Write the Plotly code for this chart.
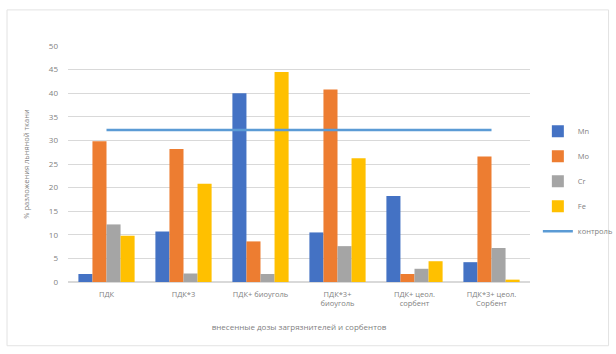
import plotly.graph_objects as go

categories = ["ПДК", "ПДК*3", "ПДК+ биоуголь", "ПДК*3+<br>биоуголь", "ПДК+ цеол.<br>сорбент", "ПДК*3+ цеол.<br>Сорбент"]
mn = [1.7, 10.7, 40.0, 10.5, 18.2, 4.2]
mo = [29.8, 28.2, 8.6, 40.8, 1.7, 26.6]
cr = [12.2, 1.8, 1.7, 7.6, 2.8, 7.2]
fe = [9.8, 20.8, 44.5, 26.2, 4.4, 0.5]
control = [32.2] * 6

series = [("Mn", mn, "#4472C4"), ("Mo", mo, "#ED7D31"), ("Cr", cr, "#A5A5A5"), ("Fe", fe, "#FFC000")]

fig = go.Figure()
for name, vals, col in series:
    fig.add_trace(go.Bar(x=categories, y=vals, name=name, marker_color=col,
                         marker_line_width=0, legendgroup=name))
fig.add_trace(go.Scatter(x=categories, y=control, name="контроль", mode="lines",
                         line=dict(color="#5B9BD5", width=2.5), legendgroup="c"))

font_col = "#7F7F7F"
fig.update_layout(
    width=616, height=354,
    margin=dict(l=68, r=86, t=46, b=72, autoexpand=False),
    paper_bgcolor="#FFFFFF", plot_bgcolor="#FFFFFF",
    barmode="group", bargap=0.27, bargroupgap=0,
    font=dict(family="Open Sans", size=8, color=font_col),
    showlegend=True,
    legend=dict(x=1.017, xanchor="left", y=0.70, yanchor="top",
                font=dict(size=7.5, color=font_col), tracegroupgap=6, itemwidth=30,
                bgcolor="rgba(0,0,0,0)"),
    xaxis=dict(showgrid=False, showline=False, ticks="", tickfont=dict(size=7.5, color=font_col),
               ticklabelstandoff=6,
               title=dict(text="внесенные дозы загрязнителей и сорбентов", font=dict(size=8, color=font_col), standoff=17)),
    yaxis=dict(range=[0, 50], dtick=5, showgrid=True, gridcolor="#D9D9D9", gridwidth=1,
               zeroline=True, zerolinecolor="#D9D9D9", showline=False, ticks="",
               tickfont=dict(size=8, color=font_col), ticklabelstandoff=9,
               title=dict(text="% разложения льняной ткани", font=dict(size=7.5, color=font_col), standoff=18)),
    shapes=[dict(type="rect", xref="paper", yref="paper", x0=-0.132, x1=1.17, y0=-0.27, y1=1.153,
                 line=dict(color="#E3E3E3", width=1), layer="below")],
)

fig.write_html("out.html")
